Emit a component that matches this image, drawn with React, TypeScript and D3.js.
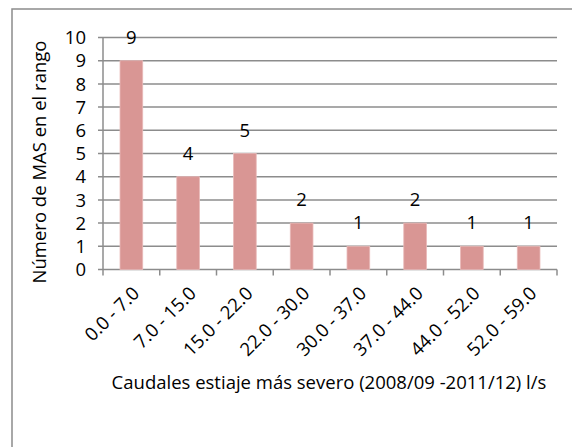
import React from "react";
import * as d3 from "d3";

const categories = ["0.0 - 7.0", "7.0 - 15.0", "15.0 - 22.0", "22.0 - 30.0", "30.0 - 37.0", "37.0 - 44.0", "44.0 - 52.0", "52.0 - 59.0"];
const values = [9, 4, 5, 2, 1, 2, 1, 1];
const yTicks = [0, 1, 2, 3, 4, 5, 6, 7, 8, 9, 10];
const yTitle = "Número de MAS en el rango";
const xTitle = "Caudales estiaje más severo (2008/09 -2011/12) l/s";

const W = 572;
const H = 447;
const plot = { left: 103, right: 557, top: 37.5, bottom: 269.5 };
const FONT = "'Open Sans', sans-serif";
const FS = 18.5;

export default function App() {
  const x = d3.scaleBand<string>().domain(categories).range([plot.left, plot.right]).paddingInner(0.6).paddingOuter(0.3);
  const xTickScale = d3.scaleLinear().domain([0, categories.length]).range([plot.left, plot.right]);
  const y = d3.scaleLinear().domain([0, 10]).range([plot.bottom, plot.top]);
  const grid = "#8c8c8c";
  return (
    <svg width={W} height={H} style={{ position: "absolute", left: 0, top: 0, background: "#fff" }} fontFamily={FONT}>
      <rect x={12} y={9} width={W + 20} height={H + 20} fill="#fff" stroke={grid} strokeWidth={1.5} />
      {yTicks.map((t) => (
        <g key={t}>
          <line x1={plot.left - 5} x2={plot.right} y1={y(t)} y2={y(t)} stroke={grid} strokeWidth={1.5} />
          <text x={86} y={y(t)} dy="0.36em" textAnchor="end" fontSize={FS} fill="#000">{t}</text>
        </g>
      ))}
      <line x1={plot.left} x2={plot.left} y1={plot.top} y2={plot.bottom} stroke={grid} strokeWidth={1.5} />
      {d3.range(categories.length + 1).map((i) => (
        <line key={i} x1={xTickScale(i)} x2={xTickScale(i)} y1={plot.bottom} y2={plot.bottom + 6} stroke={grid} strokeWidth={1.5} />
      ))}
      {categories.map((c, i) => {
        const bx = x(c)!;
        const bw = x.bandwidth();
        const cx = bx + bw / 2;
        return (
          <g key={c}>
            <rect x={bx} y={y(values[i])} width={bw} height={plot.bottom - y(values[i])} fill="#d99694" stroke="#e9b9b8" strokeWidth={0.8} />
            <text x={cx} y={y(values[i]) - 17} textAnchor="middle" fontSize={FS} fill="#000">{values[i]}</text>
            <text transform={`translate(${cx + 9},${plot.bottom + 25}) rotate(-45)`} textAnchor="end" fontSize={FS} fill="#000">{c}</text>
          </g>
        );
      })}
      <text transform={`translate(46,162) rotate(-90)`} textAnchor="middle" fontSize={FS} fill="#000">{yTitle}</text>
      <text x={329} y={389} textAnchor="middle" fontSize={FS} fill="#000">{xTitle}</text>
    </svg>
  );
}
